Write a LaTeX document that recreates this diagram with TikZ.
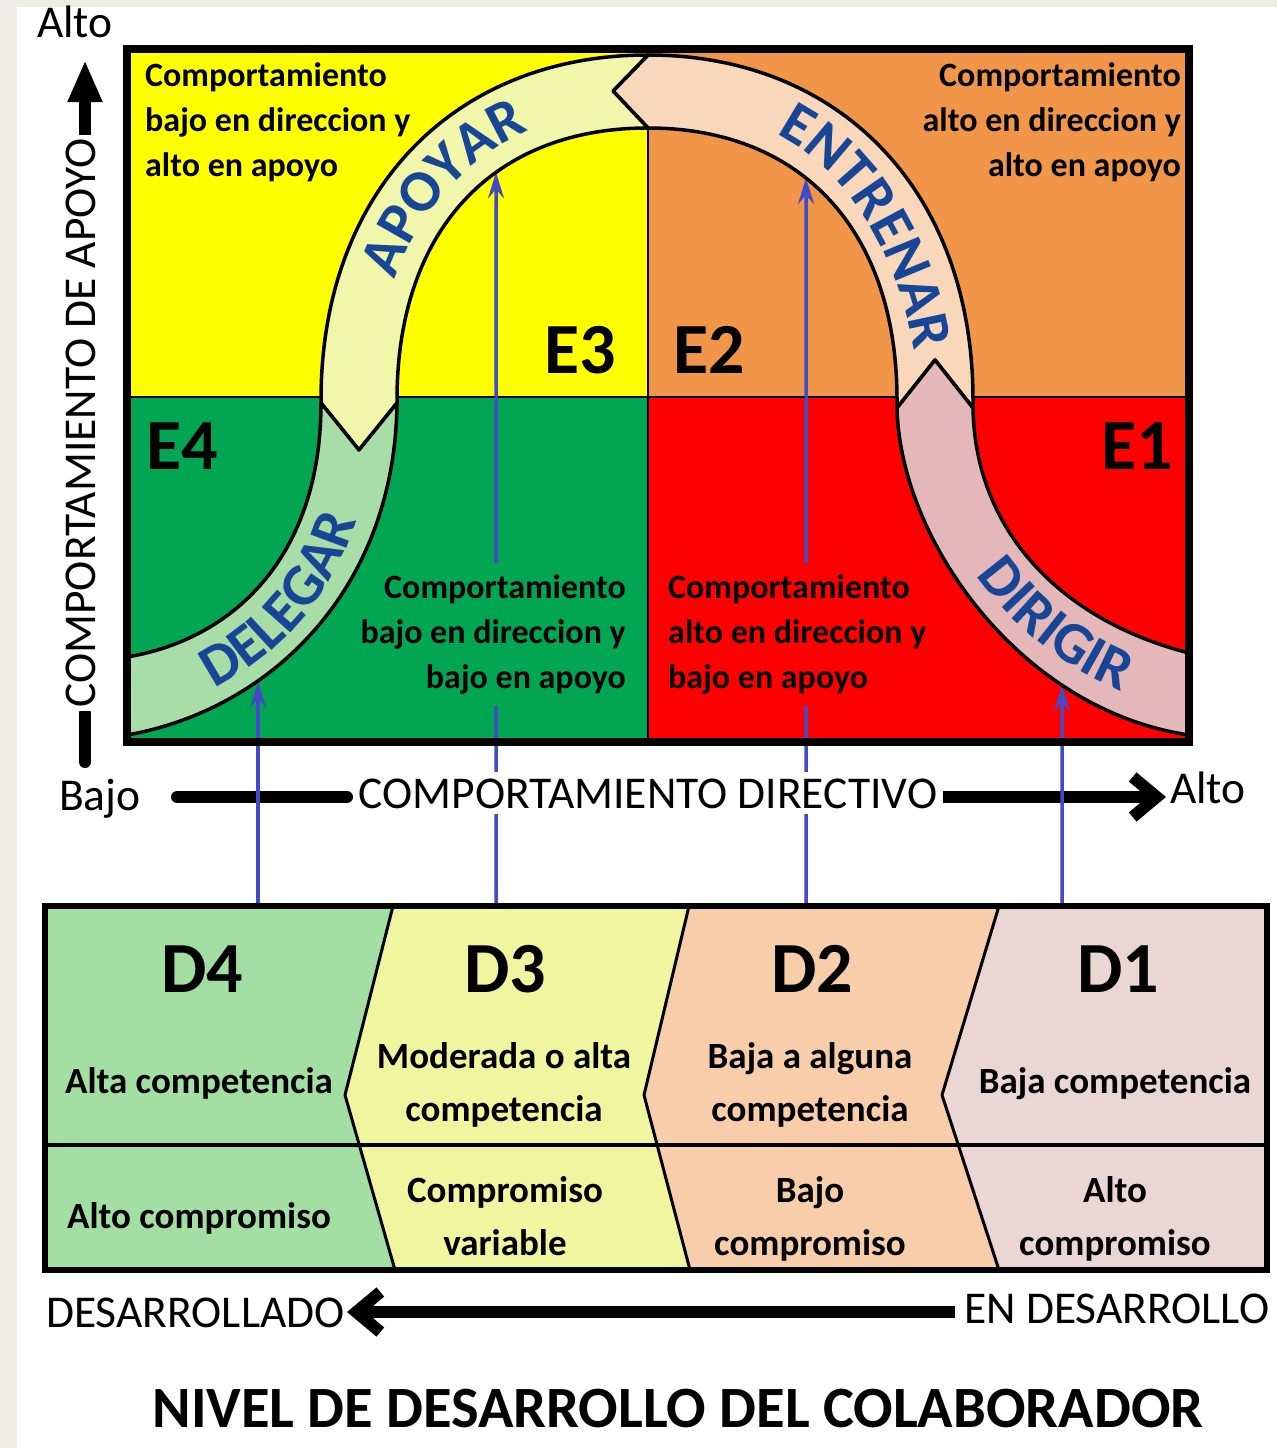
\documentclass[tikz,border=0pt]{standalone}
\usepackage{fontspec}
\setmainfont{Carlito}
\usetikzlibrary{arrows.meta,intersections,decorations.text}
\definecolor{qyellow}{RGB}{255,255,0}
\definecolor{qorange}{RGB}{241,150,72}
\definecolor{qgreen}{RGB}{0,166,81}
\definecolor{qred}{RGB}{255,0,0}
\definecolor{bdel}{RGB}{168,221,168}
\definecolor{bapo}{RGB}{240,246,170}
\definecolor{bent}{RGB}{249,215,186}
\definecolor{bdir}{RGB}{228,184,184}
\definecolor{dfour}{RGB}{163,222,163}
\definecolor{dthree}{RGB}{240,246,160}
\definecolor{dtwo}{RGB}{248,205,170}
\definecolor{done}{RGB}{234,215,213}
\definecolor{archblue}{RGB}{24,70,150}
\definecolor{linkblue}{RGB}{66,74,198}
\definecolor{edgegrey}{RGB}{239,236,232}
\newcommand{\Ltab}[1]{\begin{tabular}[t]{@{}l@{}}#1\end{tabular}}
\newcommand{\Rtab}[1]{\begin{tabular}[t]{@{}r@{}}#1\end{tabular}}
\newcommand{\Ctab}[1]{\begin{tabular}[t]{@{}c@{}}#1\end{tabular}}
\begin{document}
\begin{tikzpicture}[x=1pt,y=-1pt,
  qtext/.style={font=\fontsize{34}{45}\selectfont\bfseries, inner sep=4pt},
  btext/.style={font=\fontsize{37}{53}\selectfont\bfseries, inner sep=0pt},
  bigl/.style={font=\fontsize{72}{72}\selectfont\bfseries, inner sep=0pt},
  axtext/.style={font=\fontsize{45.5}{45.5}\selectfont, inner sep=0pt},
  titletext/.style={font=\fontsize{58.5}{58.5}\selectfont\bfseries, inner sep=0pt},
  axline/.style={line width=12pt, draw=black},
  band/.style={draw=black, line width=3.5pt, line join=round},
  link/.style={draw=linkblue, line width=3.5pt, -{Stealth[length=26pt,width=16pt,inset=9pt]}},
  archword/.style={decorate, decoration={text along path, text align=center,
     text={|\fontsize{59}{59}\selectfont\bfseries\color{archblue}|#1}}}
]
\useasboundingbox (0,0) rectangle (1277,1448);
\fill[edgegrey] (0,0) rectangle (1277,1448);
\fill[white] (17,7) rectangle (1277,1448);

% quadrants
\fill[qyellow] (127,49) rectangle (648,397);
\fill[qorange] (648,49) rectangle (1189,397);
\fill[qgreen] (127,397) rectangle (648,741);
\fill[qred] (648,397) rectangle (1189,741);
\draw[line width=1.5pt] (648,49) -- (648,741);
\draw[line width=1.5pt] (127,397) -- (1189,397);

% axes
\coordinate (va1) at (85,138);
\coordinate (va2) at (85,60);
\coordinate (vb1) at (85,713);
\coordinate (vb2) at (85,762);
\draw[axline, -{Triangle[length=42pt,width=32pt]}] (va1) -- (va2);
\draw[axline, line cap=round] (vb1) -- (vb2);
\coordinate (ha1) at (177,797);
\coordinate (ha2) at (347,797);
\coordinate (hb1) at (943,797);
\coordinate (hb2) at (1166,797);
\draw[axline, line cap=round] (ha1) -- (ha2);
\draw[axline, -{Straight Barb[length=24pt,width=40pt]}] (hb1) -- (hb2);
\coordinate (da1) at (955,1312);
\coordinate (da2) at (347,1312);
\draw[axline, -{Straight Barb[length=24pt,width=40pt]}] (da1) -- (da2);

% helper curves for link targets
\path[name path=dlow] (397,403) .. controls (395,590) and (270,710) .. (130,735);
\path[name path=ainn] (648,128) .. controls (492,128) and (397,231) .. (397,400);
\path[name path=einn] (897,400) .. controls (897,231) and (802,128) .. (648,128);
\path[name path=dirl] (1189,735) .. controls (1020,710) and (900,540) .. (897,408);
\path[name path=v1] (258,906) -- (258,300);
\path[name path=v2] (496,906) -- (496,60);
\path[name path=v3] (806,906) -- (806,60);
\path[name path=v4] (1062,906) -- (1062,400);
\path[name intersections={of=v1 and dlow, by=t1}];
\path[name intersections={of=v2 and ainn, by=t2}];
\path[name intersections={of=v3 and einn, by=t3}];
\path[name intersections={of=v4 and dirl, by=t4}];
\coordinate (s1) at (258,904);
\coordinate (s2) at (496,904);
\coordinate (s3) at (806,904);
\coordinate (s4) at (1062,904);
\draw[link] (s1) -- (t1);
\draw[link] (s2) -- (t2);
\draw[link] (s3) -- (t3);
\draw[link] (s4) -- (t4);

% quadrant texts
\node[qtext, anchor=base west] (tl) at (141,86) {\Ltab{Comportamiento\\bajo en direccion y\\alto en apoyo}};
\node[qtext, anchor=base east] (tr) at (1185,86) {\Rtab{Comportamiento\\alto en direccion y\\alto en apoyo}};
\node[qtext, anchor=base east, fill=qgreen] (gl) at (630,598) {\Rtab{Comportamiento\\bajo en direccion y\\bajo en apoyo}};
\node[qtext, anchor=base west, fill=qred] (rd) at (664,598) {\Ltab{Comportamiento\\alto en direccion y\\bajo en apoyo}};

% arch bands
\path[band, fill=bent] (648,55) .. controls (842,55) and (973,193) .. (973,400) -- (973,408) -- (935,360) -- (897,408) -- (897,400) .. controls (897,231) and (802,128) .. (648,128) -- (613,91) -- cycle;
\path[band, fill=bapo] (648,55) -- (613,91) -- (648,128) .. controls (492,128) and (397,231) .. (397,400) -- (397,403) -- (359,450) -- (321,403) -- (321,400) .. controls (321,193) and (452,55) .. (648,55) -- cycle;
\path[band, fill=bdel] (321,403) -- (359,450) -- (397,403) .. controls (395,590) and (270,710) .. (127,735) -- (127,657) .. controls (230,640) and (321,560) .. (321,403) -- cycle;
\path[band, fill=bdir] (935,360) -- (973,408) .. controls (975,530) and (1060,620) .. (1189,653) -- (1189,735) .. controls (1020,710) and (900,540) .. (897,408) -- cycle;

% arch words
\path[archword=APOYAR] (376,400) .. controls (376,222) and (482,108) .. (648,108);
\path[archword=ENTRENAR] (690,112) .. controls (830,118) and (920,250) .. (922,440);
\path[archword=DELEGAR] (128,716) .. controls (250,697) and (365,600) .. (371,430);
\path[archword=DIRIGIR] (946,522) .. controls (985,612) and (1070,684) .. (1180,710);

% E labels
\node[bigl, anchor=base west] (e3) at (544,373) {E3};
\node[bigl, anchor=base west] (e2) at (673,373) {E2};
\node[bigl, anchor=base west] (e4) at (146,469) {E4};
\node[bigl, anchor=base west] (e1) at (1101,469) {E1};

% main box border
\draw[line width=8pt] (127,49) rectangle (1189,741.5);

% axis texts
\node[axtext, anchor=base west] (altov) at (37,37) {Alto};
\node[axtext, rotate=90, fill=white, inner sep=3pt] (vlab) at (81,423) {COMPORTAMIENTO DE APOYO};
\node[axtext, anchor=base west] (bajo) at (59,810) {Bajo};
\node[axtext, anchor=base, fill=white, inner xsep=3pt, inner ysep=6pt] (hlab) at (648,808) {COMPORTAMIENTO DIRECTIVO};
\node[axtext, anchor=base west] (altoh) at (1170,803) {Alto};

% bottom box
\fill[dfour] (45,906) -- (393,906) -- (345,1095) -- (395,1270) -- (45,1270) -- cycle;
\fill[dthree] (393,906) -- (689,906) -- (644,1095) -- (690,1270) -- (395,1270) -- (345,1095) -- cycle;
\fill[dtwo] (689,906) -- (999,906) -- (942,1095) -- (999,1270) -- (690,1270) -- (644,1095) -- cycle;
\fill[done] (999,906) -- (1267,906) -- (1267,1270) -- (999,1270) -- (942,1095) -- cycle;
\draw[line width=3pt, line join=round] (393,906) -- (345,1095) -- (395,1270);
\draw[line width=3pt, line join=round] (689,906) -- (644,1095) -- (690,1270);
\draw[line width=3pt, line join=round] (999,906) -- (942,1095) -- (999,1270);
\draw[line width=4pt] (45,1145) -- (1267,1145);
\draw[line width=6pt] (45,906) rectangle (1267,1270);

\node[bigl, anchor=base] (d4) at (202,992) {D4};
\node[bigl, anchor=base] (d3) at (505,992) {D3};
\node[bigl, anchor=base] (d2) at (812,992) {D2};
\node[bigl, anchor=base] (d1) at (1118,992) {D1};

\node[btext, anchor=base] (c4) at (199,1093) {Alta competencia};
\node[btext, anchor=base] (c3) at (504,1068) {\Ctab{Moderada o alta\\competencia}};
\node[btext, anchor=base] (c2) at (810,1068) {\Ctab{Baja a alguna\\competencia}};
\node[btext, anchor=base] (c1) at (1115,1093) {Baja competencia};
\node[btext, anchor=base] (m4) at (199,1228) {Alto compromiso};
\node[btext, anchor=base] (m3) at (505,1202) {\Ctab{Compromiso\\variable}};
\node[btext, anchor=base] (m2) at (810,1202) {\Ctab{Bajo\\compromiso}};
\node[btext, anchor=base] (m1) at (1115,1202) {\Ctab{Alto\\compromiso}};

% bottom axis texts
\node[axtext, anchor=base west] (desa) at (46,1327) {DESARROLLADO};
\node[axtext, anchor=base west] (ende) at (964,1323) {EN DESARROLLO};
\node[titletext, anchor=base] (title) at (678,1427) {NIVEL DE DESARROLLO DEL COLABORADOR};
\end{tikzpicture}
\end{document}
